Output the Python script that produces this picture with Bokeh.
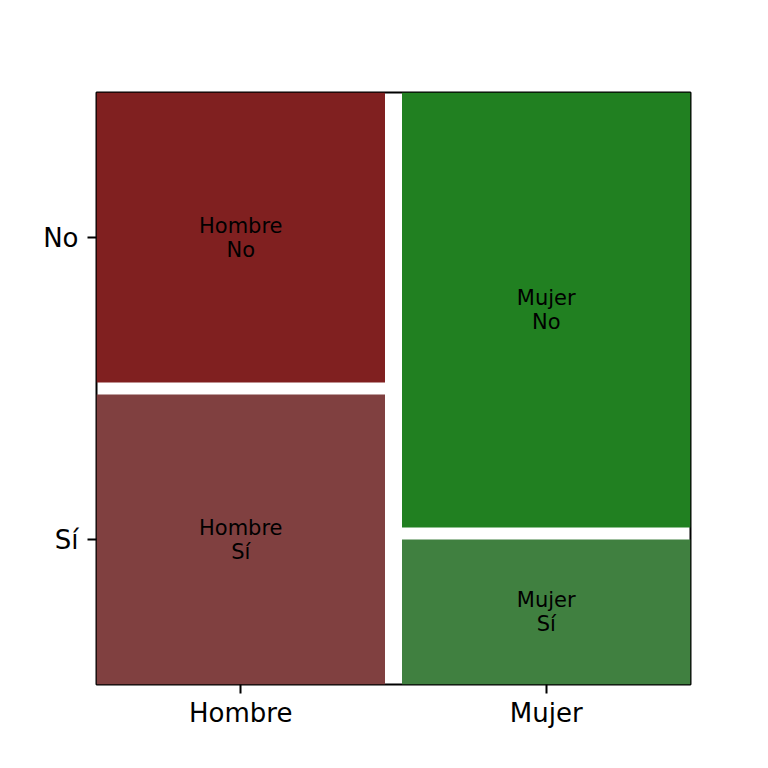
from bokeh.plotting import figure
from bokeh.models import FixedTicker, ColumnDataSource
from bokeh.core.properties import value
from bokeh.embed import file_html
from bokeh.resources import INLINE

# Data (counts read as proportions from the mosaic)
sexes = ["Hombre", "Mujer"]
answers = ["Sí", "No"]
counts_hombre = [50, 50]   # Sí, No
counts_mujer = [25, 75]    # Sí, No
colors_hombre = ["#804040", "#802020"]
colors_mujer = ["#408040", "#218021"]

GAP_X = 17 / 594
GAP_Y = 12 / 592

tot_h = sum(counts_hombre)
tot_m = sum(counts_mujer)
total = tot_h + tot_m

w_h = (1 - GAP_X) * tot_h / total
cols = [
    (0.0, w_h, counts_hombre, colors_hombre),
    (w_h + GAP_X, 1.0, counts_mujer, colors_mujer),
]

left, right, bottom, top, fill, labels, cx, cy = [], [], [], [], [], [], [], []
for sex, (x0, x1, cnts, clrs) in zip(sexes, cols):
    s = sum(cnts)
    y = 0.0
    for k, (ans, c, col) in enumerate(zip(answers, cnts, clrs)):
        h = (1 - GAP_Y) * c / s
        left.append(x0); right.append(x1)
        bottom.append(y); top.append(y + h)
        fill.append(col)
        labels.append(f"{sex}\n{ans}")
        cx.append((x0 + x1) / 2); cy.append(y + h / 2)
        y += h + GAP_Y

src = ColumnDataSource(dict(left=left, right=right, bottom=bottom, top=top,
                            fill=fill, labels=labels, cx=cx, cy=cy))

p = figure(frame_width=594, frame_height=592, x_range=(0, 1), y_range=(0, 1),
           min_border_left=96, min_border_right=70, min_border_top=92, min_border_bottom=76,
           output_backend="svg", toolbar_location=None)

p.quad(left="left", right="right", bottom="bottom", top="top", fill_color="fill",
       line_color=None, source=src)
p.text(x="cx", y="cy", text="labels", source=src, text_align="center",
       text_baseline="middle", text_font=value("DejaVu Sans"), text_font_size="21px",
       text_color="black", text_line_height=1.0)

p.xgrid.visible = False
p.ygrid.visible = False
p.outline_line_color = "black"
p.outline_line_width = 2
p.background_fill_color = "white"
p.border_fill_color = "white"

# x ticks at column centres
xt = [(c[0] + c[1]) / 2 for c in cols]
p.xaxis.ticker = FixedTicker(ticks=xt)
p.xaxis.major_label_overrides = {xt[i]: sexes[i] for i in range(2)}
# y ticks at centres of first column's segments
yt = [cy[0], cy[1]]
p.yaxis.ticker = FixedTicker(ticks=yt)
p.yaxis.major_label_overrides = {yt[i]: answers[i] for i in range(2)}

for ax in (p.xaxis[0], p.yaxis[0]):
    ax.axis_line_color = None
    ax.major_tick_out = 9
    ax.major_tick_in = 0
    ax.major_tick_line_width = 2
    ax.minor_tick_line_color = None
    ax.major_label_text_font = "DejaVu Sans"
    ax.major_label_text_font_size = "26px"
    ax.major_label_text_color = "black"
    ax.major_label_standoff = 8
p.xaxis[0].major_label_standoff = 4
p.yaxis[0].major_label_standoff = 9

open("out.html", "w").write(file_html(p, INLINE))
